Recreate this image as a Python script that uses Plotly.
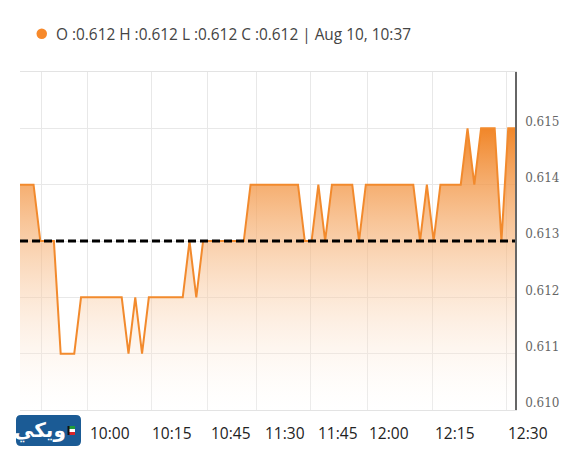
import plotly.graph_objects as go

# ---- data ----
price = [0.614, 0.614, 0.614, 0.613, 0.613, 0.613, 0.611, 0.611, 0.611, 0.612,
         0.612, 0.612, 0.612, 0.612, 0.612, 0.612, 0.611, 0.612, 0.611, 0.612,
         0.612, 0.612, 0.612, 0.612, 0.612, 0.613, 0.612, 0.613, 0.613, 0.613,
         0.613, 0.613, 0.613, 0.613, 0.614, 0.614, 0.614, 0.614, 0.614, 0.614,
         0.614, 0.614, 0.613, 0.613, 0.614, 0.613, 0.614, 0.614, 0.614, 0.614,
         0.613, 0.614, 0.614, 0.614, 0.614, 0.614, 0.614, 0.614, 0.614, 0.613,
         0.614, 0.613, 0.614, 0.614, 0.614, 0.614, 0.615, 0.614, 0.615, 0.615,
         0.615, 0.613, 0.615, 0.615]
prev_close = 0.613
idx = list(range(len(price)))

time_labels = ["10:00", "10:15", "10:45", "11:30", "11:45", "12:00", "12:15", "12:30"]
time_label_pos = [13.3, 22.4, 31.1, 39.1, 46.9, 54.4, 64.2, 74.9]
grid_pos = [3.2, 10.0, 19.4, 27.7, 34.9, 42.8, 51.2, 60.9, 71.8]
y_ticks = [0.610, 0.611, 0.612, 0.613, 0.614, 0.615]
y_tick_text = ["0.610", "0.611", "0.612", "0.613", "0.614", "0.615"]

hdr_keys = ["O", "H", "L", "C"]
hdr_vals = [0.612, 0.612, 0.612, 0.612]
hdr_time = "Aug 10, 10:37"

# ---- layout geometry (pixels) ----
W, H = 565, 451
ML, MR, MT, MB = 20, 50, 72, 41
PW, PH = W - ML - MR, H - MT - MB
XMAX = len(price) - 1


def px2x(px):
    return (px - ML) / PW


def px2y(py):
    return (H - MB - py) / PH


ORANGE = "#f28a2d"

fig = go.Figure()
fig.add_trace(go.Scatter(
    x=idx, y=price, mode="lines",
    line=dict(color=ORANGE, width=2),
    fill="tozeroy",
    fillgradient=dict(type="vertical", start=0.610, stop=0.615,
                      colorscale=[[0, "rgba(255,255,255,0.15)"],
                                  [1, "rgba(240,128,30,0.95)"]]),
    hoverinfo="skip", showlegend=False,
))

fig.add_hline(y=prev_close, line=dict(color="black", width=3, dash="8px,4px"))

shapes = []
# left light strip
shapes.append(dict(type="rect", xref="paper", yref="paper",
                   x0=px2x(0), x1=px2x(18), y0=px2y(H), y1=px2y(0),
                   fillcolor="#f4f4f4", line=dict(width=0), layer="below"))
# header dot
shapes.append(dict(type="circle", xref="paper", yref="paper",
                   x0=px2x(36.5), x1=px2x(47), y0=px2y(39), y1=px2y(28.5),
                   fillcolor="#f7892b", line=dict(width=0)))
# logo rounded rectangle
lx0, lx1, ly0, ly1 = px2x(16), px2x(81), px2y(446), px2y(415)
rx, ry = 5 / PW, 5 / PH
path = (f"M {lx0+rx},{ly0} L {lx1-rx},{ly0} Q {lx1},{ly0} {lx1},{ly0+ry} "
        f"L {lx1},{ly1-ry} Q {lx1},{ly1} {lx1-rx},{ly1} L {lx0+rx},{ly1} "
        f"Q {lx0},{ly1} {lx0},{ly1-ry} L {lx0},{ly0+ry} Q {lx0},{ly0} {lx0+rx},{ly0} Z")
shapes.append(dict(type="path", xref="paper", yref="paper", path=path,
                   fillcolor="#1b5b95", line=dict(width=0)))
# tiny flag
for c, a, b in [("#1f9a3a", 426, 429), ("#ffffff", 429, 432), ("#d8262b", 432, 435)]:
    shapes.append(dict(type="rect", xref="paper", yref="paper",
                       x0=px2x(68), x1=px2x(75), y0=px2y(b), y1=px2y(a),
                       fillcolor=c, line=dict(width=0)))
shapes.append(dict(type="rect", xref="paper", yref="paper",
                   x0=px2x(67.5), x1=px2x(69.5), y0=px2y(435), y1=px2y(426),
                   fillcolor="#111111", line=dict(width=0)))

annotations = []
hdr = " ".join(f"{k} :{v:.3f}" for k, v in zip(hdr_keys, hdr_vals)) + f" | {hdr_time}"
annotations.append(dict(xref="paper", yref="paper", x=px2x(54), y=px2y(34),
                        xanchor="left", yanchor="middle", showarrow=False, text=hdr,
                        font=dict(family="Open Sans", size=15.4, color="#444444")))
for lab, pos in zip(time_labels, time_label_pos):
    annotations.append(dict(xref="paper", yref="paper", x=pos / XMAX, y=px2y(433),
                            xanchor="center", yanchor="middle", showarrow=False,
                            text=lab, font=dict(family="Open Sans", size=15.5, color="#222222")))
annotations.append(dict(xref="paper", yref="paper", x=px2x(40), y=px2y(430),
                        xanchor="center", yanchor="middle", showarrow=False,
                        text="<b>ويكي</b>",
                        font=dict(family="DejaVu Sans", size=20, color="white")))

fig.update_layout(
    width=W, height=H,
    margin=dict(l=ML, r=MR, t=MT, b=MB, autoexpand=False),
    paper_bgcolor="white", plot_bgcolor="white",
    shapes=shapes, annotations=annotations,
    showlegend=False,
    xaxis=dict(range=[0, XMAX], tickvals=grid_pos, showticklabels=False,
               showgrid=True, gridcolor="#e8e8e8", gridwidth=1,
               showline=True, mirror=True, linecolor="#e3e3e3", linewidth=1,
               zeroline=False, ticks="", fixedrange=True, automargin=False),
    yaxis=dict(range=[0.610, 0.616], side="right", tickvals=y_ticks, ticktext=y_tick_text,
               showgrid=True, gridcolor="#e8e8e8", gridwidth=1,
               showline=True, linecolor="#666666", linewidth=1.5,
               zeroline=False, ticks="", ticklabelshift=-7, ticklabelstandoff=6,
               tickfont=dict(family="DejaVu Serif", size=12, color="#666666"),
               fixedrange=True, automargin=False),
)

fig.write_html("out.html", config={"displayModeBar": False},
               post_script="document.body.style.margin='0';")
